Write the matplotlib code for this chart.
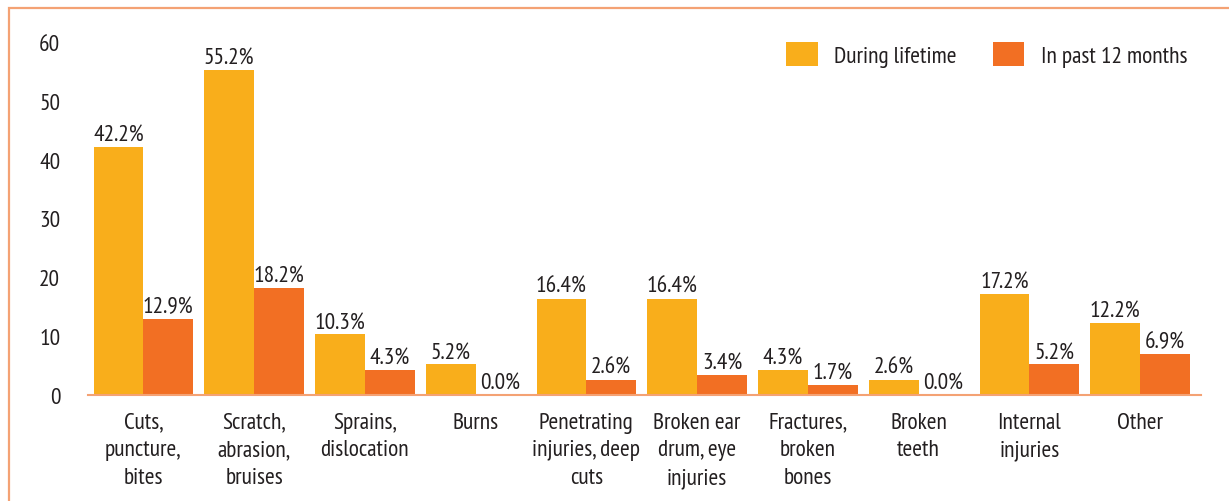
import matplotlib
matplotlib.use("Agg")
import matplotlib.pyplot as plt
import numpy as np
from matplotlib.patches import Rectangle

plt.rcParams['font.family'] = ['PT Sans Narrow', 'DejaVu Sans']

categories = ["Cuts,\npuncture,\nbites", "Scratch,\nabrasion,\nbruises", "Sprains,\ndislocation",
              "Burns", "Penetrating\ninjuries, deep\ncuts", "Broken ear\ndrum, eye\ninjuries",
              "Fractures,\nbroken\nbones", "Broken\nteeth", "Internal\ninjuries", "Other"]
lifetime = [42.2, 55.2, 10.3, 5.2, 16.4, 16.4, 4.3, 2.6, 17.2, 12.2]
past12 = [12.9, 18.2, 4.3, 0.0, 2.6, 3.4, 1.7, 0.0, 5.2, 6.9]
series_names = ["During lifetime", "In past 12 months"]
yticks = [0, 10, 20, 30, 40, 50, 60]

c1 = "#F9AE1B"
c2 = "#F26F23"
txt = "#231F20"
fs = 16.8

fig = plt.figure(figsize=(12.29, 5.02), dpi=100)
fig.patches.append(Rectangle((9/1229, -0.1), 1.2, 1 - 9/502 + 0.1, transform=fig.transFigure,
                             fill=False, edgecolor="#F4A274", lw=1.6))
ax = fig.add_axes([88/1229, 1 - 396/502, (1201 - 88)/1229, (396 - 43)/502])
x = np.arange(len(categories))
w = 0.45
b1 = ax.bar(x - w/2, lifetime, w, color=c1, label=series_names[0])
b2 = ax.bar(x + w/2, past12, w, color=c2, label=series_names[1])
for bars, vals in ((b1, lifetime), (b2, past12)):
    for r, v in zip(bars, vals):
        ax.annotate(f"{v:.1f}%", (r.get_x() + r.get_width()/2, v), xytext=(0, 1.5),
                    textcoords="offset points", ha="center", va="bottom", fontsize=fs, color=txt)
ax.set_xlim(-0.5, 9.55)
ax.set_ylim(0, 60)
ax.set_yticks(yticks)
ax.set_xticks(x)
ax.set_xticklabels(categories, fontsize=fs, color=txt, linespacing=1.42, va="top")
ax.tick_params(axis="x", length=0, pad=12)
ax.tick_params(axis="y", length=0, pad=20, labelsize=fs, labelcolor=txt)
for s in ["top", "right", "left"]:
    ax.spines[s].set_visible(False)
ax.spines["bottom"].set_color("#F4A274")
ax.spines["bottom"].set_linewidth(1.5)
leg = ax.legend(loc="upper right", bbox_to_anchor=(1.007, 1.06), ncol=2, frameon=False, fontsize=fs,
                handlelength=1.35, handleheight=1.2, handletextpad=0.72, columnspacing=1.55)
for t in leg.get_texts():
    t.set_color(txt)
fig.savefig("out.png", dpi=100)
